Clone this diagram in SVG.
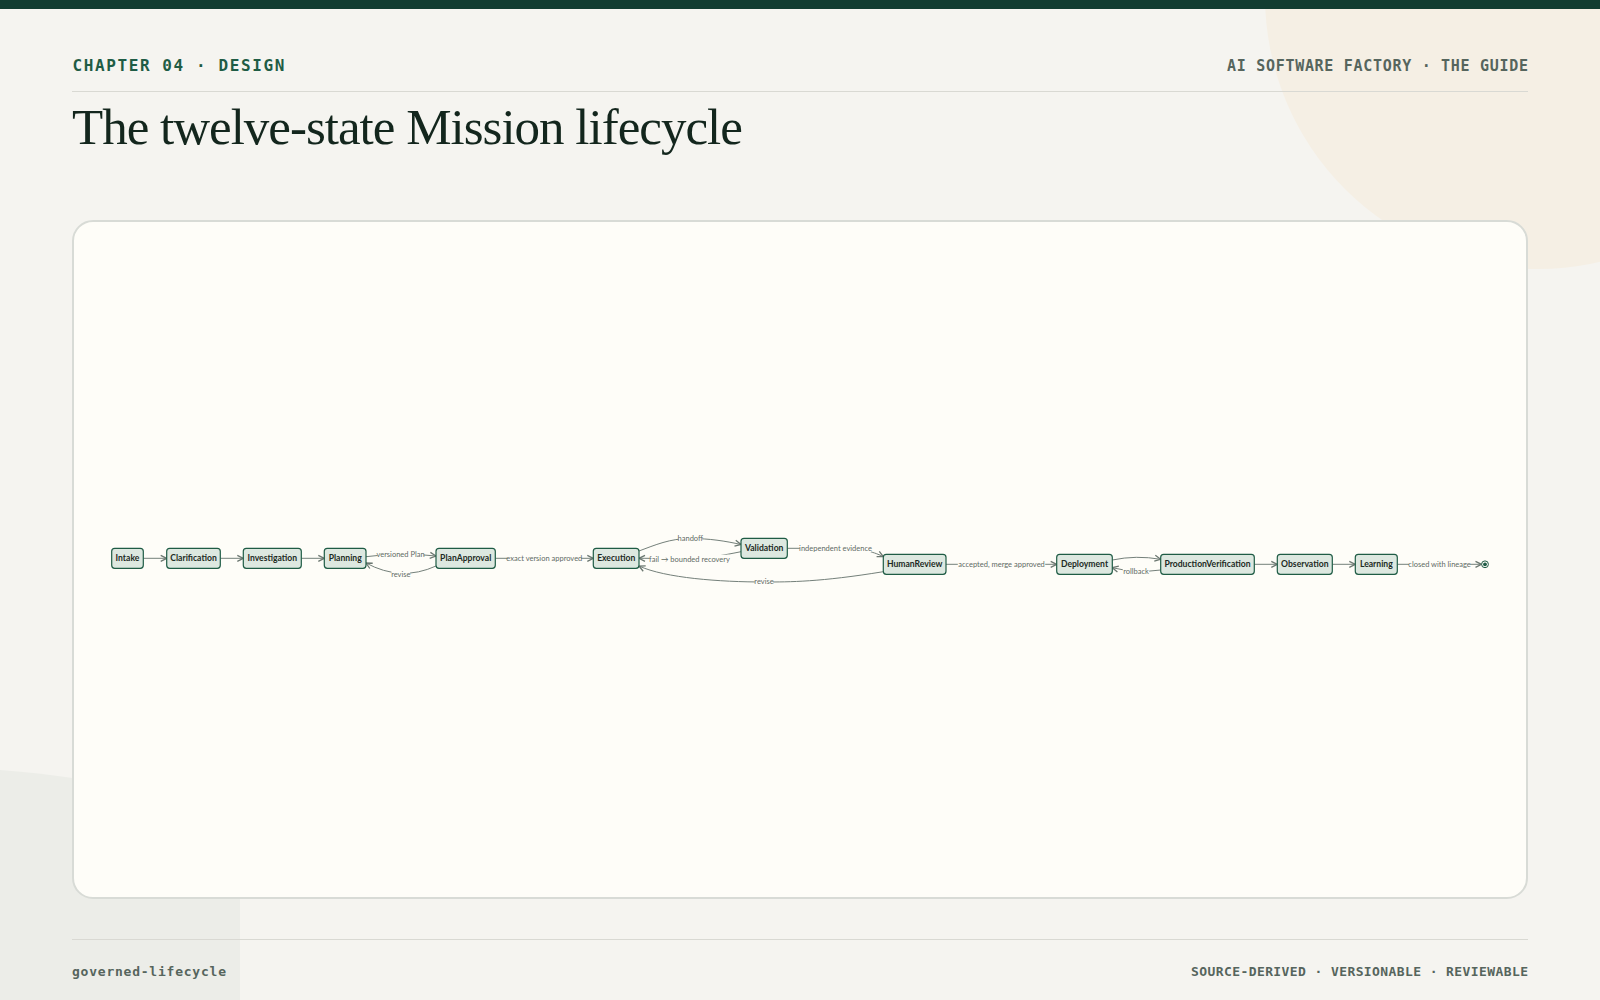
<svg xmlns="http://www.w3.org/2000/svg" width="1600" height="1000" viewBox="0 0 1600 1000">
<defs>
<style>
.mono{font-family:"DejaVu Sans Mono","Liberation Mono",monospace;font-weight:bold}
.node rect{fill:#dde8e0;stroke:#1f5c45;stroke-width:1.2}
.node text{font-family:Lato,"Noto Sans",sans-serif;font-weight:bold;font-size:8.6px;fill:#1c2a23;text-anchor:middle}
.edge{fill:none;stroke:#74807a;stroke-width:1;marker-end:url(#arr)}
.lbl rect{fill:#fefdf8}
.lbl text{font-family:Lato,"Noto Sans",sans-serif;font-size:7.5px;fill:#5f6b65;text-anchor:middle}
</style>
<marker id="arr" viewBox="0 0 8 8" refX="7" refY="4" markerWidth="8" markerHeight="8" markerUnits="userSpaceOnUse" orient="auto">
<path d="M1,1 L7,4 L1,7" fill="none" stroke="#6b7770" stroke-width="1.3"/>
</marker>
</defs>
<rect x="0" y="0" width="1600" height="1000" fill="#f5f4f0"/>
<circle cx="1538" cy="-4" r="273" fill="#f5efe4"/>
<path d="M0,770 Q70,775 150,792 Q240,815 240,900 L240,1000 L0,1000 Z" fill="#ecede8"/>
<rect x="0" y="0" width="1600" height="9" fill="#123d31"/>
<text class="mono" x="72.5" y="71" font-size="16" letter-spacing="1.6" fill="#1f5c45">CHAPTER 04 · DESIGN</text>
<text class="mono" x="1528.7" y="71" font-size="15" letter-spacing="0.7" text-anchor="end" fill="#56655d">AI SOFTWARE FACTORY · THE GUIDE</text>
<line x1="72" y1="91.5" x2="1528" y2="91.5" stroke="#d9d9d3" stroke-width="1.2"/>
<text x="72" y="144" font-family="'Liberation Serif','DejaVu Serif',serif" font-size="51" letter-spacing="-1" fill="#13261d">The twelve-state Mission lifecycle</text>
<rect x="73" y="221" width="1454" height="677" rx="20" fill="#fefdf8" stroke="#d8dbd6" stroke-width="2"/>
<line x1="72" y1="939.5" x2="1528" y2="939.5" stroke="#d9d9d3" stroke-width="1.2"/>
<text class="mono" x="72" y="976" font-size="13" letter-spacing="0.77" fill="#56655d">governed-lifecycle</text>
<text class="mono" x="1528.4" y="976" font-size="13" letter-spacing="0.4" text-anchor="end" fill="#56655d">SOURCE-DERIVED · VERSIONABLE · REVIEWABLE</text>

<g id="connectors">
<path class="edge" d="M143.3,558.3 L166.7,558.3"/>
<path class="edge" d="M220.3,558.3 L243.3,558.3"/>
<path class="edge" d="M301.3,558.3 L324.3,558.3"/>
<path class="edge" d="M366,556.7 Q401,552 436,556"/>
<path class="edge" d="M436,566 Q401,582 366,563"/>
<path class="edge" d="M495.3,558.3 L593.3,558.3"/>
<path class="edge" d="M639,551 C655,545 670,538.5 690,538.5 C710,538.5 725,541 741,544.5"/>
<path class="edge" d="M741,551.7 C722,555.5 705,558.5 690,558.5 C670,558.5 652,558.3 639,558.3"/>
<path class="edge" d="M787.3,548.3 L835,548.3 C860,548.3 872,551 883.3,556.7"/>
<path class="edge" d="M883.3,571.7 C820,582 790,582 764,582 C720,582 665,578 639,566"/>
<path class="edge" d="M946,564.3 L1056.7,564.3"/>
<path class="edge" d="M1112.3,560 Q1136,555 1160.7,559.3"/>
<path class="edge" d="M1160.7,570 Q1136,573.5 1112.3,567.7"/>
<path class="edge" d="M1254.3,564.3 L1277.3,564.3"/>
<path class="edge" d="M1332.3,564.3 L1355.3,564.3"/>
<path class="edge" d="M1397.3,564.3 L1481.5,564.3"/>
<g class="lbl">
<rect x="377.5" y="550" width="46" height="8.6"/><text x="400.5" y="556.9">versioned Plan</text>
<rect x="391.5" y="569.7" width="18.6" height="8.6"/><text x="400.8" y="576.6">revise</text>
<rect x="507.5" y="554" width="73.6" height="8.6"/><text x="544.3" y="560.9">exact version approved</text>
<rect x="678.5" y="534" width="23.6" height="8.6"/><text x="690.3" y="540.9">handoff</text>
<rect x="649.8" y="554.7" width="79.4" height="8.6"/><text x="689.5" y="561.6">fail → bounded recovery</text>
<rect x="799.8" y="544" width="71.4" height="8.6"/><text x="835.5" y="550.9">independent evidence</text>
<rect x="754.8" y="577.4" width="18.4" height="8.6"/><text x="764" y="584.3">revise</text>
<rect x="957.8" y="560" width="87.4" height="8.6"/><text x="1001.5" y="566.9">accepted, merge approved</text>
<rect x="1122.8" y="567.4" width="26.4" height="8.6"/><text x="1136" y="574.3">rollback</text>
<rect x="1409" y="560" width="61.2" height="8.6"/><text x="1439.6" y="566.9">closed with lineage</text>
</g>
</g>

<g id="n-intake" class="node"><rect x="111.7" y="548.3" width="31.6" height="20" rx="3"/><text x="127.5" y="561.4">Intake</text></g>
<g id="n-clarification" class="node"><rect x="166.7" y="548.3" width="53.6" height="20" rx="3"/><text x="193.5" y="561.4">Clarification</text></g>
<g id="n-investigation" class="node"><rect x="243.3" y="548.3" width="58" height="20" rx="3"/><text x="272.3" y="561.4">Investigation</text></g>
<g id="n-planning" class="node"><rect x="324.3" y="548.3" width="41.7" height="20" rx="3"/><text x="345.2" y="561.4">Planning</text></g>
<g id="n-planapproval" class="node"><rect x="436" y="548.3" width="59.3" height="20" rx="3"/><text x="465.7" y="561.4">PlanApproval</text></g>
<g id="n-execution" class="node"><rect x="593.3" y="548.3" width="45.7" height="20" rx="3"/><text x="616.2" y="561.4">Execution</text></g>
<g id="n-validation" class="node"><rect x="741" y="538.3" width="46.3" height="20" rx="3"/><text x="764.2" y="551.4">Validation</text></g>
<g id="n-humanreview" class="node"><rect x="883.3" y="554.3" width="62.7" height="20" rx="3"/><text x="914.7" y="567.4">HumanReview</text></g>
<g id="n-deployment" class="node"><rect x="1056.7" y="554.3" width="55.6" height="20" rx="3"/><text x="1084.5" y="567.4">Deployment</text></g>
<g id="n-productionverification" class="node"><rect x="1160.7" y="554.3" width="93.6" height="20" rx="3"/><text x="1207.5" y="567.4">ProductionVerification</text></g>
<g id="n-observation" class="node"><rect x="1277.3" y="554.3" width="55" height="20" rx="3"/><text x="1304.8" y="567.4">Observation</text></g>
<g id="n-learning" class="node"><rect x="1355.3" y="554.3" width="42" height="20" rx="3"/><text x="1376.3" y="567.4">Learning</text></g>
<g id="n-end"><circle cx="1485" cy="564.3" r="3.4" fill="#fefdf8" stroke="#1f5c45" stroke-width="1"/><circle cx="1485" cy="564.3" r="1.9" fill="#1f5c45"/></g>
</svg>
